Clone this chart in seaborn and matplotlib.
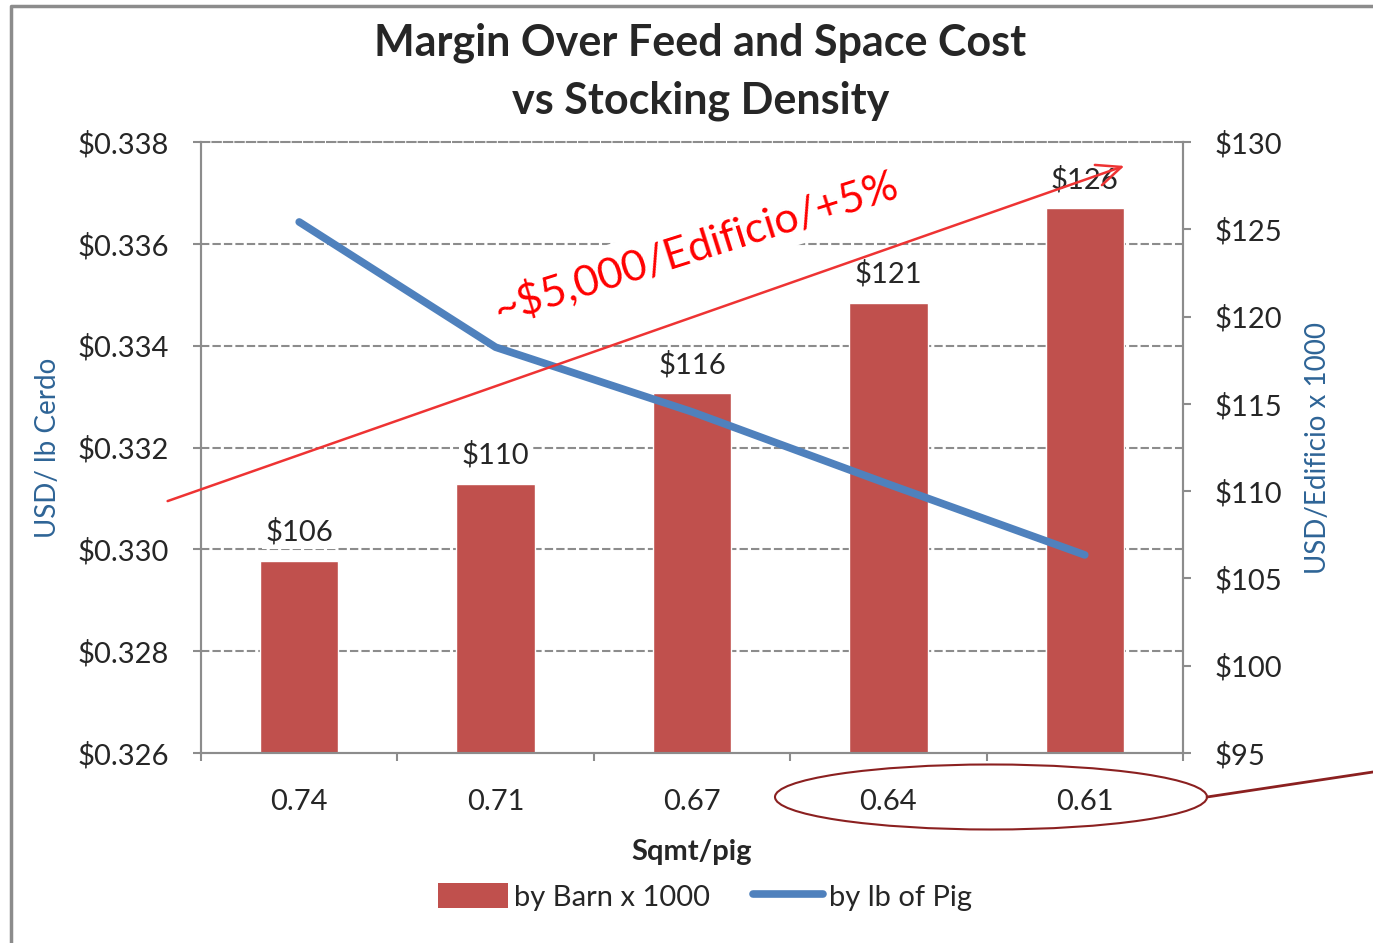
import numpy as np
import pandas as pd
import matplotlib
matplotlib.use("Agg")
import matplotlib.pyplot as plt
from matplotlib.patches import Ellipse, Patch, FancyArrowPatch
from matplotlib.lines import Line2D
import seaborn as sns

# values
density = ["0.74", "0.71", "0.67", "0.64", "0.61"]          # Sqmt/pig
by_barn = [106.0, 110.4, 115.6, 120.8, 126.2]               # USD/Edificio x 1000 (bars)
by_lb = [0.33643, 0.33397, 0.33270, 0.33128, 0.32989]       # USD / lb Cerdo (line)
left_ticks = [0.326, 0.328, 0.330, 0.332, 0.334, 0.336, 0.338]
right_ticks = [95, 100, 105, 110, 115, 120, 125, 130]

BAR = "#C0504D"
LINE = "#4F81BD"
AXLBL = "#2E6496"
GRAY = "#8c8c8c"
FS = 21

df = pd.DataFrame({"density": density, "barn": by_barn, "lb": by_lb})
df["pos"] = np.arange(len(df))

sns.set_theme(style="white")
plt.rcParams["font.family"] = ["Lato", "DejaVu Sans"]

fig = plt.figure(figsize=(13.73, 9.43), dpi=100)
ax = fig.add_axes([0.1464, 0.2015, 0.7152, 0.6479])

# bars on the right-hand axis
sns.barplot(data=df, x="pos", y="barn", color=BAR, width=0.4, saturation=1,
            ax=ax, native_scale=False)
ax2 = ax.twinx()

ax.set_ylim(95, 130)
ax.set_yticks(right_ticks)
ax.set_yticklabels([f"${v}" for v in right_ticks], fontsize=FS)
ax.yaxis.tick_right()
ax.yaxis.set_label_position("right")
ax.set_ylabel("USD/Edificio x 1000", color=AXLBL, fontsize=20, labelpad=16)
# dashed grid follows the left axis ticks
ax.set_yticks(np.linspace(95, 130, len(left_ticks)), minor=True)
ax.grid(which="minor", axis="y", ls=(0, (4, 1.5)), color=GRAY, lw=1.5)
ax.grid(which="major", axis="y", visible=False)
ax.grid(axis="x", visible=False)
ax.set_axisbelow(True)
ax.tick_params(axis="y", which="minor", length=0)
ax.tick_params(axis="y", which="major", length=6, width=1.5, color=GRAY, pad=17,
               right=True, left=False, labelright=True, labelleft=False)

ax.bar_label(ax.containers[0], fmt="${:.0f}", padding=11, fontsize=FS,
             bbox=dict(fc="white", ec="none", pad=2))

ax.set_xticks(df["pos"])
ax.set_xticklabels(density, fontsize=FS)
ax.set_xticks(np.arange(-0.5, len(density)), minor=True)
ax.tick_params(axis="x", which="major", length=0, pad=26)
ax.tick_params(axis="x", which="minor", length=6, width=1.5, color=GRAY, bottom=True)
ax.set_xlabel("Sqmt/pig", fontsize=FS, fontweight="bold", labelpad=17)

# line on the left-hand axis, drawn above the bars
sns.lineplot(data=df, x="pos", y="lb", color=LINE, lw=5.5, sort=False,
             solid_capstyle="round", ax=ax2)
ax2.yaxis.tick_left()
ax2.yaxis.set_label_position("left")
ax2.set_ylim(0.326, 0.338)
ax2.set_yticks(left_ticks)
ax2.set_yticklabels([f"${v:.3f}" for v in left_ticks], fontsize=FS)
ax2.set_ylabel("USD/ lb Cerdo", color=AXLBL, fontsize=20, labelpad=12)
ax2.tick_params(axis="y", length=6, width=1.5, color=GRAY, pad=17,
                left=True, right=False, labelleft=True, labelright=False)
ax2.grid(False)
ax.set_xlim(-0.5, len(density) - 0.5)

for a in (ax, ax2):
    for side in ("left", "right", "bottom"):
        a.spines[side].set_visible(True)
        a.spines[side].set_color(GRAY)
        a.spines[side].set_linewidth(1.5)
    a.spines["top"].set_visible(False)
# top edge shows as a dashed gridline
ax2.spines["top"].set_visible(True)
ax2.spines["top"].set_color(GRAY)
ax2.spines["top"].set_linewidth(1.5)
ax2.spines["top"].set_linestyle((0, (4, 1.5)))

# title
fig.text(0.51, 1 - 43 / 943, "Margin Over Feed and Space Cost", ha="center", va="center",
         fontsize=31, fontweight="bold")
fig.text(0.51, 1 - 101 / 943, "vs Stocking Density", ha="center", va="center",
         fontsize=31, fontweight="bold")

# legend
handles = [Patch(fc=BAR, ec="none"),
           Line2D([], [], color=LINE, lw=5.5, solid_capstyle="round")]
fig.legend(handles, ["by Barn x 1000", "by lb of Pig"], loc="center",
           bbox_to_anchor=(0.5135, 1 - 897 / 943), ncol=2, frameon=False, fontsize=FS,
           handlelength=2.4, handleheight=0.9, handletextpad=0.2, columnspacing=1.5)

# annotations
fig.add_artist(FancyArrowPatch((165 / 1373, 1 - 502 / 943), (1127 / 1373, 1 - 165 / 943),
                               transform=fig.transFigure, arrowstyle="->,head_length=0.8,head_width=0.35",
                               mutation_scale=22, color="#EE3333", lw=1.8, zorder=6))
fig.text(0.507, 1 - 247 / 943, "~$5,000/Edificio/+5%", rotation=17.5, rotation_mode="anchor",
         ha="center", va="center", fontsize=31, color="#FF0000", zorder=7,
         bbox=dict(fc="white", ec="none", pad=6))
fig.add_artist(Ellipse((991 / 1373, 1 - 797 / 943), 432 / 1373, 65 / 943,
                       transform=fig.transFigure, fill=False, ec="#8B2020", lw=1.5))
fig.add_artist(Line2D([1207 / 1373, 1.0], [1 - 797 / 943, 1 - 772 / 943],
                      transform=fig.transFigure, color="#8B2020", lw=2))

# outer frame (chart area border, cropped on right and bottom)
fig.add_artist(Line2D([11 / 1373, 11 / 1373, 1.0], [0.0, 1 - 6 / 943, 1 - 6 / 943],
                      transform=fig.transFigure, color=GRAY, lw=2.5))

fig.savefig("out.png", dpi=100)
